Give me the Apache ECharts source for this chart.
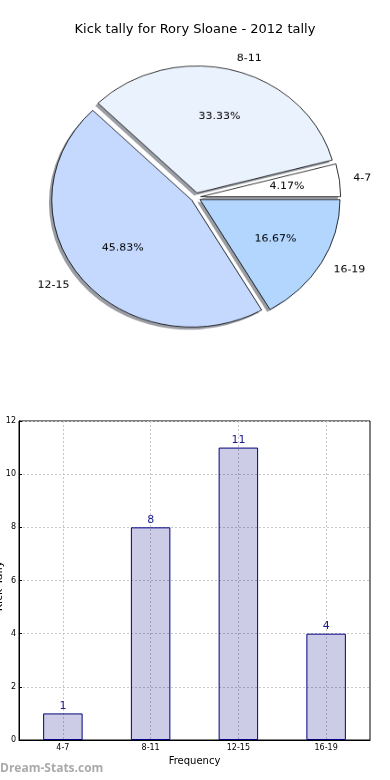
<!DOCTYPE html>
<html><head><meta charset="utf-8">
<script src="https://cdn.jsdelivr.net/npm/echarts@6/dist/echarts.min.js"></script>
<style>
html,body{margin:0;padding:0;background:#fff;}
#main{position:absolute;left:0;top:0;width:390px;height:780px;}
#pie{position:absolute;left:0;top:0;width:390px;height:400px;transform:scaleY(0.907);transform-origin:195.7px 197.3px;}
</style></head><body>
<div id="main"></div><div id="pie"></div>
<script>
const chartTitle = 'Kick tally for Rory Sloane - 2012 tally';
const categories = ['4-7', '8-11', '12-15', '16-19'];
const tallies = [1, 8, 11, 4];
const sliceColors = ['#ffffff', '#eaf2fe', '#c5d9fe', '#b3d6fe'];
const yAxisTitle = 'Kick Tally';
const xAxisTitle = 'Frequency';
const watermark = 'Dream-Stats.com';

const FONT = 'DejaVu Sans';
const R = 140, CX = 195.7, CY = 197.3, OFF = 5;

const pieBase = {
  type: 'pie', radius: R, startAngle: 0, clockwise: false,
  selectedMode: 'multiple', selectedOffset: OFF, avoidLabelOverlap: false,
  emphasis: {disabled: true}
};

const pie = echarts.init(document.getElementById('pie'), null, {renderer: 'canvas'});
pie.setOption({
  animation: false,
  series: [
    Object.assign({}, pieBase, {
      center: [CX - 2.8, CY + 2.8], silent: true,
      itemStyle: {color: '#9a9da3', borderWidth: 0},
      label: {show: false}, labelLine: {show: false},
      data: categories.map((c, i) => ({name: c, value: tallies[i], selected: true}))
    }),
    Object.assign({}, pieBase, {
      center: [CX, CY],
      itemStyle: {borderColor: '#000', borderWidth: 0.8},
      label: {show: true, position: 'outside', formatter: '{b}', fontSize: 11, color: '#000',
        fontFamily: FONT, distanceToLabelLine: 0},
      labelLine: {show: false, length: R * 0.1, length2: 0},
      data: categories.map((c, i) => ({name: c, value: tallies[i], selected: true,
        itemStyle: {color: sliceColors[i]}}))
    }),
    Object.assign({}, pieBase, {
      center: [CX, CY], radius: R * 1.2, silent: true,
      itemStyle: {color: 'rgba(0,0,0,0)', borderWidth: 0},
      label: {show: true, position: 'inside', formatter: '{d}%', fontSize: 11, color: '#000',
        fontFamily: FONT},
      labelLine: {show: false},
      data: categories.map((c, i) => ({name: c, value: tallies[i], selected: true}))
    })
  ]
});

const main = echarts.init(document.getElementById('main'), null, {renderer: 'canvas'});
main.setOption({
  animation: false,
  title: {text: chartTitle, left: 'center', top: 18,
    textStyle: {fontSize: 13, fontWeight: 'normal', fontFamily: FONT, color: '#000'}},
  grid: {left: 19, right: 20, top: 421, bottom: 40, show: true, borderColor: '#000', borderWidth: 1,
    containLabel: false, outerBoundsMode: 'none'},
  xAxis: {
    type: 'category', data: categories,
    name: xAxisTitle, nameLocation: 'middle', nameGap: 16,
    nameTextStyle: {fontSize: 10, color: '#000', fontFamily: FONT},
    axisLine: {lineStyle: {color: '#000'}},
    axisTick: {inside: true, alignWithLabel: true, length: 3, lineStyle: {color: '#000'}},
    axisLabel: {fontSize: 8, color: '#000', margin: 4, fontFamily: FONT},
    splitLine: {show: true, alignWithLabel: true, lineStyle: {color: '#c8c8c8', type: [2, 2], width: 1}}
  },
  yAxis: {
    type: 'value', min: 0, max: 12, interval: 2,
    axisLine: {show: true, lineStyle: {color: '#000'}},
    axisTick: {show: true, inside: true, length: 3, lineStyle: {color: '#000'}},
    axisLabel: {fontSize: 8, color: '#000', margin: 3, fontFamily: FONT},
    splitLine: {show: true, lineStyle: {color: '#c8c8c8', type: [2, 2], width: 1}}
  },
  series: [{
    type: 'bar', data: tallies, barWidth: '45%',
    itemStyle: {color: 'rgba(0,0,128,0.2)', borderColor: '#000080', borderWidth: 1},
    label: {show: true, position: 'top', distance: 2, fontSize: 11, color: '#1a1a8c', fontFamily: FONT},
    emphasis: {disabled: true}
  }],
  graphic: [
    {type: 'text', x: -1, y: 586, rotation: Math.PI / 2,
      style: {text: yAxisTitle, fontSize: 11, fill: '#000', fontFamily: FONT,
        textAlign: 'center', textVerticalAlign: 'middle'}},
    {type: 'text', left: 0, top: 763,
      style: {text: watermark, fontSize: 12, fontWeight: 'bold', fill: '#aaa', fontFamily: 'Open Sans'}}
  ]
});
</script></body></html>
